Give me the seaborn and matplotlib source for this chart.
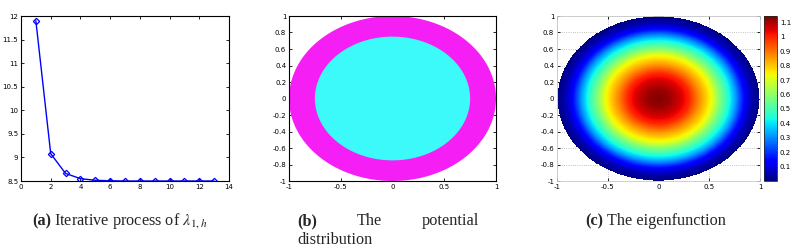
import numpy as np
import pandas as pd
import matplotlib
matplotlib.use("Agg")
import matplotlib.pyplot as plt
import seaborn as sns

# ---- data ----
iterations = [1, 2, 3, 4, 5, 6, 7, 8, 9, 10, 11, 12, 13]
lambda_vals = [11.9, 9.08, 8.66, 8.55, 8.515, 8.505, 8.50, 8.50, 8.50, 8.50, 8.50, 8.50, 8.50]

outer_radius = 1.0
inner_radius = 0.75

# radial profile of the eigenfunction
profile_r = [0.0, 0.1, 0.2, 0.3, 0.41, 0.53, 0.61, 0.70, 0.77, 0.83, 0.88, 0.93, 1.0]
profile_v = [1.14, 1.12, 1.07, 1.00, 0.86, 0.72, 0.57, 0.43, 0.30, 0.17, 0.09, 0.04, 0.0]

a_xticks = [0, 2, 4, 6, 8, 10, 12, 14]
a_yticks = [8.5, 9, 9.5, 10, 10.5, 11, 11.5, 12]
bc_xticks = [-1, -0.5, 0, 0.5, 1]
bc_yticks = [-1, -0.8, -0.6, -0.4, -0.2, 0, 0.2, 0.4, 0.6, 0.8, 1]
cbar_ticks = [0.1, 0.2, 0.3, 0.4, 0.5, 0.6, 0.7, 0.8, 0.9, 1, 1.1]

sns.set_theme(style="white")
plt.rcParams['font.family'] = ['DejaVu Sans']
plt.rcParams['mathtext.fontset'] = 'stix'

fig = plt.figure(figsize=(7.99, 2.49), dpi=100)
W, H = 799, 249

def axes_px(l, t, r, b):
    return fig.add_axes([l / W, 1 - b / H, (r - l) / W, (b - t) / H])

def style_ax(ax):
    ax.tick_params(direction="in", length=2.5, width=0.6, labelsize=5, pad=2,
                   top=True, right=True, bottom=True, left=True, colors="black")
    for s in ax.spines.values():
        s.set_color("black")
        s.set_linewidth(0.8)
        s.set_visible(True)

def fmt(v):
    return "%g" % v

# ---- panel a ----
axa = axes_px(21, 16, 229, 181)
df = pd.DataFrame({"iter": iterations, "lam": lambda_vals})
sns.lineplot(data=df, x="iter", y="lam", ax=axa, color="#0000ff", marker="D",
             markersize=3.2, markerfacecolor="none", markeredgecolor="#0000ff",
             markeredgewidth=0.9, linewidth=1.0)
axa.set_xlim(0, 14)
axa.set_ylim(8.5, 12)
axa.set_xticks(a_xticks)
axa.set_yticks(a_yticks)
axa.set_xticklabels([fmt(v) for v in a_xticks])
axa.set_yticklabels([fmt(v) for v in a_yticks])
axa.set_xlabel("")
axa.set_ylabel("")
style_ax(axa)

# ---- panel b ----
axb = axes_px(289, 16, 496, 181)
th = np.linspace(0, 2 * np.pi, 400)
axb.fill(outer_radius * np.cos(th), outer_radius * np.sin(th), color="#f51ef5", lw=0)
axb.fill(inner_radius * np.cos(th), inner_radius * np.sin(th), color="#3cfafa", lw=0)
axb.set_xlim(-1, 1)
axb.set_ylim(-1, 1)
axb.set_xticks(bc_xticks)
axb.set_yticks(bc_yticks)
axb.set_xticklabels([fmt(v) for v in bc_xticks])
axb.set_yticklabels([fmt(v) for v in bc_yticks])
style_ax(axb)

# ---- panel c ----
axc = axes_px(557, 16, 760, 181)
n = 600
xs = np.linspace(-1, 1, n)
X, Y = np.meshgrid(xs, xs)
R = np.sqrt(X ** 2 + Y ** 2)
Z = np.interp(R, profile_r, profile_v)
Z = np.ma.masked_where(R > 0.995, Z)
mesh = axc.pcolormesh(X, Y, Z, cmap="jet", vmin=0, vmax=1.145, shading="auto",
                      rasterized=True)
axc.set_xlim(-1, 1)
axc.set_ylim(-1, 1)
axc.set_xticks(bc_xticks)
axc.set_yticks(bc_yticks)
axc.set_xticklabels([fmt(v) for v in bc_xticks])
axc.set_yticklabels([fmt(v) for v in bc_yticks])
axc.grid(True, linestyle=":", color="#b0b0b0", linewidth=0.6)
axc.set_axisbelow(True)
style_ax(axc)
for s in axc.spines.values():
    s.set_color("#c8c8c8")
    s.set_linewidth(0.6)

cax = axes_px(764, 16, 777, 181)
cb = fig.colorbar(mesh, cax=cax, ticks=cbar_ticks)
cb.ax.set_yticklabels([fmt(v) for v in cbar_ticks])
cb.ax.tick_params(direction="in", length=2, width=0.5, labelsize=5, pad=2, colors="black")
cb.outline.set_linewidth(0.6)

# ---- captions ----
serif = ['Liberation Serif', 'DejaVu Serif']
fs = 11.7
cy = 1 - 225 / H
fig.text(32 / W, cy, "(a)", fontsize=fs, fontweight="bold", family=serif, va="baseline")
fig.text(53.5 / W, cy, r"Iterative process of $\lambda_{1,h}$", fontsize=fs, family=serif, va="baseline")
fig.text(297 / W, cy, "(b)", fontsize=fs, fontweight="bold", family=serif, va="baseline")
fig.text(357 / W, cy, "The", fontsize=fs, family=serif, va="baseline")
fig.text(422 / W, cy, "potential", fontsize=fs, family=serif, va="baseline")
fig.text(297 / W, 1 - 244 / H, "distribution", fontsize=fs, family=serif, va="baseline")
fig.text(585 / W, cy, "(c)", fontsize=fs, fontweight="bold", family=serif, va="baseline")
fig.text(607 / W, cy, "The eigenfunction", fontsize=fs, family=serif, va="baseline")

fig.savefig("out.png", dpi=100)
